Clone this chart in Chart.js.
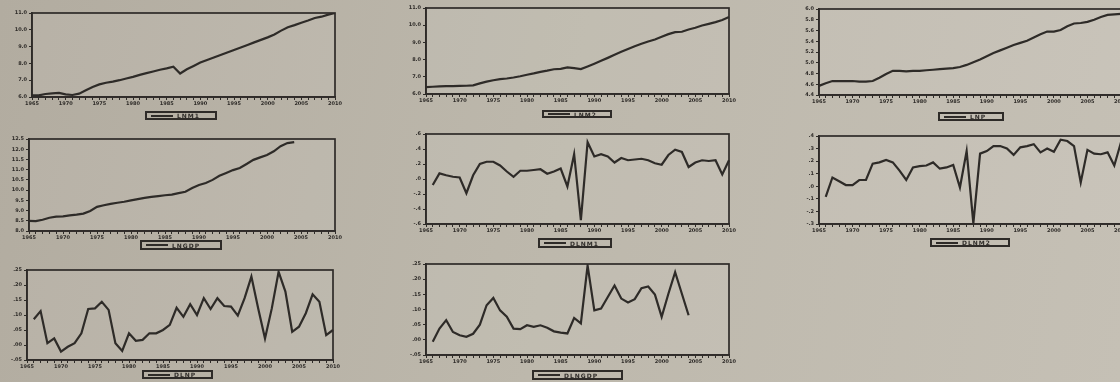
<!DOCTYPE html>
<html>
<head>
<meta charset="utf-8">
<script src="https://cdn.jsdelivr.net/npm/chart.js@4"></script>
<style>
  body { margin:0; width:1120px; height:382px; overflow:hidden;
         background: linear-gradient(100deg, #b2aca0 0%, #bdb8ac 50%, #c5c0b5 100%); }
  #page { position:relative; width:1120px; height:382px; filter: blur(0.45px); }
  .box { position:absolute; }
  .lg { position:absolute; border:2px solid #2e2b28; box-sizing:border-box; display:flex; align-items:center;
        font-family:"DejaVu Sans", sans-serif; font-size:6px; font-weight:bold; letter-spacing:1px; color:#2e2b28; padding-left:4px; }
  .lg span { display:inline-block; width:22px; height:2px; background:#2e2b28; margin-right:4px; }
</style>
</head>
<body>
<div id="page"></div>
<script>
// ---------------- DATA -------------------
const Years = [1965,1966,1967,1968,1969,1970,1971,1972,1973,1974,1975,1976,1977,1978,1979,1980,1981,1982,1983,1984,1985,1986,1987,1988,1989,1990,1991,1992,1993,1994,1995,1996,1997,1998,1999,2000,2001,2002,2003,2004,2005,2006,2007,2008,2009,2010]

const LNM1 = [6.10,6.10,6.18,6.22,6.24,6.16,6.12,6.20,6.40,6.60,6.75,6.85,6.92,7.00,7.10,7.20,7.32,7.42,7.52,7.62,7.70,7.80,7.40,7.65,7.85,8.05,8.20,8.35,8.50,8.65,8.80,8.95,9.10,9.25,9.40,9.55,9.72,9.95,10.15,10.28,10.42,10.55,10.70,10.78,10.90,11.0]
const LNM2 = [6.40,6.42,6.44,6.46,6.46,6.47,6.48,6.50,6.62,6.72,6.80,6.86,6.90,6.96,7.03,7.12,7.20,7.29,7.36,7.44,7.46,7.55,7.50,7.45,7.60,7.76,7.93,8.10,8.28,8.45,8.62,8.78,8.92,9.05,9.17,9.33,9.48,9.60,9.62,9.75,9.85,9.98,10.08,10.18,10.30,10.47]
const LNP = [4.57,4.62,4.66,4.66,4.66,4.66,4.65,4.65,4.66,4.72,4.79,4.85,4.85,4.84,4.85,4.85,4.86,4.87,4.88,4.89,4.90,4.92,4.96,5.01,5.06,5.12,5.18,5.23,5.28,5.33,5.37,5.41,5.47,5.53,5.58,5.58,5.61,5.68,5.73,5.74,5.76,5.80,5.85,5.89,5.90,5.91]
const LNGDP = [8.50,8.48,8.55,8.65,8.70,8.72,8.76,8.80,8.85,8.98,9.18,9.26,9.33,9.38,9.43,9.50,9.56,9.62,9.67,9.71,9.75,9.78,9.85,9.92,10.10,10.25,10.35,10.50,10.70,10.84,10.98,11.08,11.28,11.48,11.60,11.72,11.90,12.15,12.30,12.35,null,null,null,null,null,null]
const DLNM1 = [null,-0.08,0.075,0.05,0.03,0.02,-0.19,0.05,0.20,0.23,0.23,0.18,0.10,0.03,0.11,0.11,0.12,0.13,0.07,0.10,0.14,-0.10,0.33,-0.55,0.49,0.30,0.33,0.30,0.22,0.28,0.25,0.26,0.27,0.25,0.21,0.19,0.32,0.39,0.36,0.16,0.22,0.25,0.24,0.25,0.06,0.25]
const DLNM2 = [null,-0.085,0.07,0.04,0.01,0.01,0.05,0.05,0.18,0.19,0.21,0.19,0.125,0.05,0.15,0.16,0.165,0.19,0.14,0.15,0.17,-0.01,0.28,-0.295,0.26,0.28,0.32,0.32,0.30,0.25,0.31,0.32,0.335,0.27,0.30,0.275,0.37,0.36,0.32,0.03,0.29,0.26,0.255,0.27,0.165,0.35]
const DLNP = [null,0.086,0.113,0.006,0.022,-0.022,-0.006,0.006,0.039,0.12,0.122,0.144,0.117,0.006,-0.02,0.039,0.014,0.017,0.039,0.039,0.05,0.067,0.124,0.094,0.136,0.10,0.156,0.12,0.156,0.13,0.128,0.098,0.156,0.228,0.122,0.022,0.122,0.244,0.178,0.044,0.061,0.106,0.169,0.144,0.033,0.05]
const DLNGDP = [null,-0.006,0.037,0.065,0.026,0.015,0.01,0.02,0.05,0.114,0.138,0.097,0.076,0.037,0.035,0.048,0.043,0.048,0.04,0.028,0.024,0.021,0.072,0.054,0.245,0.097,0.103,0.141,0.179,0.136,0.123,0.134,0.17,0.176,0.149,0.076,0.152,0.223,0.152,0.081,null,null,null,null,null,null]

// ---------------- LAYOUT (plot rect l,t,r,b  /  legend x,y,w,h) -------------------
const Panels = [
  {name:'LNM1',   data:LNM1,   min:6,    max:11,   step:0.5,  dec:1, plot:[32,12,335,97],    lg:[145,111,72,9]},
  {name:'LNM2',   data:LNM2,   min:6,    max:11,   step:1,    dec:1, plot:[426,7,729,94],    lg:[542,110,70,8]},
  {name:'LNP',    data:LNP,    min:4.4,  max:6.0,  step:0.2,  dec:1, plot:[819,8,1121,95],   lg:[938,112,66,9]},
  {name:'LNGDP',  data:LNGDP,  min:8,    max:12.5, step:0.5,  dec:1, plot:[29,138,335,231],  lg:[140,240,82,10]},
  {name:'DLNM1',  data:DLNM1,  min:-0.6, max:0.6,  step:0.2,  dec:1, plot:[426,133,729,224], lg:[538,238,74,10]},
  {name:'DLNM2',  data:DLNM2,  min:-0.3, max:0.4,  step:0.1,  dec:1, plot:[819,135,1121,224],lg:[930,238,80,9]},
  {name:'DLNP',   data:DLNP,   min:-0.05,max:0.25, step:0.05, dec:2, plot:[27,269,333,360],  lg:[142,370,71,9]},
  {name:'DLNGDP', data:DLNGDP, min:-0.05,max:0.25, step:0.05, dec:2, plot:[426,263,729,355], lg:[532,370,91,10]}
]

const Ink = '#2e2b28'
const YW = 30, XH = 14, PT = 4, PR = 10

// light paper inside + frame round the plot area
const FramePlugin = {
  id: 'frame',
  beforeDatasetsDraw(chart) {
    const a = chart.chartArea, c = chart.ctx
    c.save()
    c.fillStyle = 'rgba(255,255,250,0.07)'
    c.fillRect(a.left, a.top, a.right - a.left, a.bottom - a.top)
    c.restore()
  },
  afterDraw(chart) {
    const a = chart.chartArea, c = chart.ctx
    c.save()
    c.strokeStyle = Ink
    c.lineWidth = 1.7
    c.strokeRect(a.left, a.top, a.right - a.left, a.bottom - a.top)
    c.restore()
  }
}

function fmt(v, dec) {
  let s = Math.abs(v) < 1e-9 ? (0).toFixed(dec) : v.toFixed(dec)
  return s.replace(/^(-?)0\./, '$1.')
}

const page = document.getElementById('page')
Panels.forEach(p => {
  const [l, t, r, b] = p.plot
  const box = document.createElement('div')
  box.className = 'box'
  box.style.left = (l - YW) + 'px'
  box.style.top = (t - PT) + 'px'
  box.style.width = (r - l + YW + PR) + 'px'
  box.style.height = (b - t + PT + XH) + 'px'
  const cv = document.createElement('canvas')
  box.appendChild(cv)
  page.appendChild(box)

  const lg = document.createElement('div')
  lg.className = 'lg'
  lg.style.left = p.lg[0] + 'px'
  lg.style.top = p.lg[1] + 'px'
  lg.style.width = p.lg[2] + 'px'
  lg.style.height = p.lg[3] + 'px'
  lg.innerHTML = '<span></span>' + p.name
  page.appendChild(lg)

  new Chart(cv.getContext('2d'), {
    type: 'line',
    data: {
      labels: Years,
      datasets: [{
        label: p.name,
        data: p.data,
        borderColor: Ink,
        borderWidth: 2.2,
        pointRadius: 0,
        tension: 0,
        spanGaps: false
      }]
    },
    options: {
      responsive: true,
      maintainAspectRatio: false,
      animation: false,
      layout: {padding: {top: PT, right: PR, left: 0, bottom: 0}},
      plugins: {legend: {display: false}, tooltip: {enabled: false}},
      scales: {
        x: {
          afterFit: s => { s.height = XH },
          grid: {drawOnChartArea: false, drawTicks: true, tickLength: 3, color: Ink, lineWidth: 1},
          border: {display: true, color: Ink, width: 1.7},
          ticks: {
            autoSkip: false, maxRotation: 0, minRotation: 0, padding: 1,
            color: Ink, font: {family: 'DejaVu Sans', size: 5, weight: 'bold'},
            callback: (v, i) => Years[i] % 5 === 0 ? String(Years[i]) : ''
          }
        },
        y: {
          min: p.min, max: p.max,
          afterFit: s => { s.width = YW },
          grid: {drawOnChartArea: false, drawTicks: true, tickLength: 3, color: Ink, lineWidth: 1},
          border: {display: true, color: Ink, width: 1.7},
          ticks: {
            stepSize: p.step, padding: 2,
            color: Ink, font: {family: 'DejaVu Sans', size: 5, weight: 'bold'},
            callback: v => fmt(v, p.dec)
          }
        }
      }
    },
    plugins: [FramePlugin]
  })
})
</script>
</body>
</html>
